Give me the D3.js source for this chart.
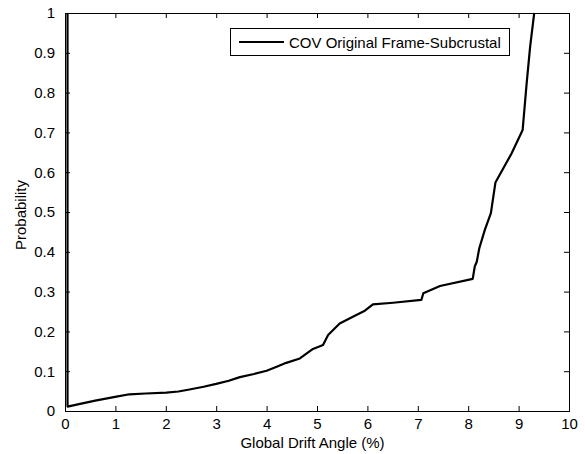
<!DOCTYPE html>
<html>
<head>
<meta charset="utf-8">
<script src="https://cdn.jsdelivr.net/npm/d3@7"></script>
<style>
  html, body { margin: 0; padding: 0; background: #fff; }
  svg { display: block; font-family: "Liberation Sans", Arial, sans-serif; }
</style>
</head>
<body>
<svg id="chart" width="585" height="454"></svg>
<script>
// Cumulative probability of the global drift angle
const driftAngle = [0.05, 0.05, 0.30, 0.60, 1.02, 1.28, 1.60, 2.01, 2.25, 2.47, 2.75, 3.00, 3.25, 3.47, 3.75, 4.00, 4.20, 4.39, 4.66, 4.92, 5.12, 5.22, 5.45, 5.78, 5.95, 6.11, 6.51, 7.07, 7.11, 7.44, 8.09, 8.13, 8.17, 8.22, 8.33, 8.45, 8.54, 8.86, 9.08, 9.16, 9.23, 9.31];
const probability = [1.0, 0.011, 0.018, 0.026, 0.036, 0.042, 0.044, 0.046, 0.049, 0.054, 0.061, 0.068, 0.076, 0.085, 0.093, 0.101, 0.111, 0.121, 0.132, 0.156, 0.166, 0.191, 0.220, 0.241, 0.252, 0.268, 0.272, 0.279, 0.296, 0.314, 0.332, 0.363, 0.375, 0.409, 0.455, 0.497, 0.574, 0.647, 0.706, 0.824, 0.917, 1.0];
const xTicks = [0, 1, 2, 3, 4, 5, 6, 7, 8, 9, 10];
const yTicks = [0, 0.1, 0.2, 0.3, 0.4, 0.5, 0.6, 0.7, 0.8, 0.9, 1];
const seriesName = "COV Original Frame-Subcrustal";

const svg = d3.select("#chart");
const plotL = 65, plotR = 569, plotT = 13, plotB = 411;
const fontSize = "15px";

const x = d3.scaleLinear().domain([0, 10]).range([plotL, plotR]);
const y = d3.scaleLinear().domain([0, 1]).range([plotB, plotT]);
const fmt = d => String(d);

// inward ticks on all four sides
const tickLen = 5;
svg.append("g").attr("transform", `translate(0,${plotB})`)
  .call(d3.axisBottom(x).tickValues(xTicks).tickFormat(fmt).tickSizeInner(-tickLen).tickSizeOuter(0).tickPadding(7));
svg.append("g").attr("transform", `translate(0,${plotT})`)
  .call(d3.axisTop(x).tickValues(xTicks).tickFormat("").tickSizeInner(-tickLen).tickSizeOuter(0));
svg.append("g").attr("transform", `translate(${plotL},0)`)
  .call(d3.axisLeft(y).tickValues(yTicks).tickFormat(fmt).tickSizeInner(-tickLen).tickSizeOuter(0).tickPadding(10));
svg.append("g").attr("transform", `translate(${plotR},0)`)
  .call(d3.axisRight(y).tickValues(yTicks).tickFormat("").tickSizeInner(-tickLen).tickSizeOuter(0));

svg.selectAll(".domain").remove();
svg.selectAll(".tick line").attr("stroke", "#000");
svg.selectAll(".tick text").attr("fill", "#000").style("font-size", fontSize);

// axes frame
svg.append("rect")
  .attr("x", plotL + 0.5).attr("y", plotT + 0.5)
  .attr("width", plotR - plotL).attr("height", plotB - plotT)
  .attr("fill", "none").attr("stroke", "#000").attr("stroke-width", 1);

// curve
const pts = driftAngle.map((d, i) => [d, probability[i]]);
svg.append("path")
  .datum(pts)
  .attr("fill", "none")
  .attr("stroke", "#000")
  .attr("stroke-width", 2.2)
  .attr("stroke-linejoin", "round")
  .attr("d", d3.line().x(d => x(d[0])).y(d => y(d[1])));

// axis titles
svg.append("text")
  .attr("x", 312.5).attr("y", 448)
  .attr("text-anchor", "middle").style("font-size", fontSize)
  .text("Global Drift Angle (%)");
svg.append("text")
  .attr("transform", `translate(26,215) rotate(-90)`)
  .attr("text-anchor", "middle").style("font-size", fontSize)
  .text("Probability");

// legend
const lg = svg.append("g");
lg.append("rect")
  .attr("x", 230.5).attr("y", 28.5).attr("width", 279).attr("height", 27)
  .attr("fill", "#fff").attr("stroke", "#000");
lg.append("line")
  .attr("x1", 239).attr("x2", 284).attr("y1", 42).attr("y2", 42)
  .attr("stroke", "#000").attr("stroke-width", 2.2);
lg.append("text")
  .attr("x", 289).attr("y", 47.5).style("font-size", fontSize)
  .text(seriesName);
</script>
</body>
</html>
